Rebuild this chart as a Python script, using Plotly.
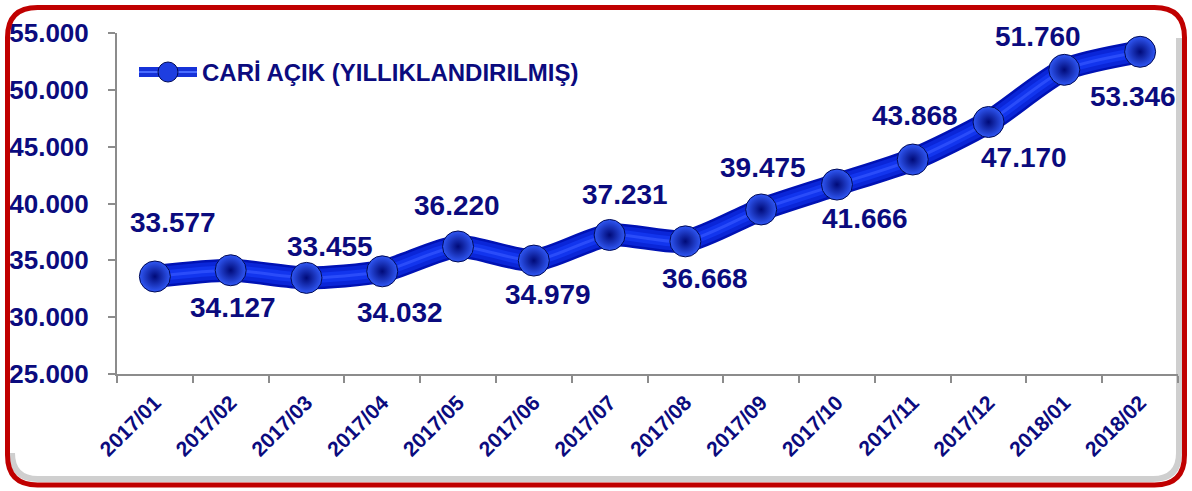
import plotly.graph_objects as go

# ---- data ----
categories = ["2017/01", "2017/02", "2017/03", "2017/04", "2017/05", "2017/06", "2017/07",
              "2017/08", "2017/09", "2017/10", "2017/11", "2017/12", "2018/01", "2018/02"]
values = [33577, 34127, 33455, 34032, 36220, 34979, 37231, 36668, 39475, 41666,
          43868, 47170, 51760, 53346]
series_name = "CARİ AÇIK (YILLIKLANDIRILMIŞ)"
y_ticks = [25000, 30000, 35000, 40000, 45000, 50000, 55000]
# label offsets in pixels (dx right, dy down) relative to each point
label_dx = [18, 2, 24, 18, -1, 14, 15, 20, 2, 28, 2, 35, -26, -7]
label_dy = [-54, 37, -31, 41, -41, 34, -40, 37, -42, 34, -44, 35, -33, 45]

W, H = 1192, 491
ML, MR, MT, MB = 117, 14, 33, 117
PW, PH = W - ML - MR, H - MT - MB

NAVY = "#0B0B7E"
FONT = "Liberation Sans"


def px(x):
    return (x - ML) / PW


def py(y):
    return (H - MB - y) / PH


def fmt(v):
    return f"{v:,}".replace(",", ".")


fig = go.Figure()

# thick shaded line (layered)
for width, color in [(23, "#0012B4"), (18, "#0A26D8"), (10, "#1235EE"), (3, "#2A4CFA")]:
    fig.add_trace(go.Scatter(
        x=categories, y=values, mode="lines",
        line=dict(color=color, width=width, shape="spline", smoothing=0.7),
        hoverinfo="skip", showlegend=False))

# spherical markers
fig.add_trace(go.Scatter(
    x=categories, y=values, mode="markers", name=series_name,
    marker=dict(size=31, color="#3058F5", symbol="circle",
                gradient=dict(type="radial", color="#000A78"),
                line=dict(color="#000A55", width=1)),
    showlegend=False))

# data labels
annotations = []
for c, v, dx, dy in zip(categories, values, label_dx, label_dy):
    annotations.append(dict(
        x=c, y=v, xref="x", yref="y", text=f"<b>{fmt(v)}</b>", showarrow=False,
        xshift=dx, yshift=-dy,
        font=dict(family=FONT, size=28, color=NAVY)))

# manual legend text
annotations.append(dict(
    x=px(200), y=py(72), xref="paper", yref="paper", xanchor="left", yanchor="middle",
    text=f"<b>{series_name}</b>", showarrow=False,
    font=dict(family=FONT, size=24, color=NAVY)))


def rounded_rect(x0, y0, x1, y1, r):
    # pixel coords -> paper path
    pts = [
        f"M {px(x0 + r)},{py(y0)}",
        f"L {px(x1 - r)},{py(y0)}",
        f"Q {px(x1)},{py(y0)} {px(x1)},{py(y0 + r)}",
        f"L {px(x1)},{py(y1 - r)}",
        f"Q {px(x1)},{py(y1)} {px(x1 - r)},{py(y1)}",
        f"L {px(x0 + r)},{py(y1)}",
        f"Q {px(x0)},{py(y1)} {px(x0)},{py(y1 - r)}",
        f"L {px(x0)},{py(y0 + r)}",
        f"Q {px(x0)},{py(y0)} {px(x0 + r)},{py(y0)}",
        "Z",
    ]
    return " ".join(pts)


def shadow_path(x0, y0, x1, y1, r):
    # bottom + right inner shadow (open path)
    pts = [
        f"M {px(x1)},{py(y0 + r)}",
        f"L {px(x1)},{py(y1 - r)}",
        f"Q {px(x1)},{py(y1)} {px(x1 - r)},{py(y1)}",
        f"L {px(x0 + r)},{py(y1)}",
        f"Q {px(x0)},{py(y1)} {px(x0)},{py(y1 - r)}",
    ]
    return " ".join(pts)


shapes = [
    # inner grey shadow (bottom / right)
    dict(type="path", xref="paper", yref="paper", layer="below",
         path=shadow_path(12, 12, 1179, 479, 26),
         line=dict(color="#CFCFCF", width=6)),
    # red rounded border
    dict(type="path", xref="paper", yref="paper", layer="above",
         path=rounded_rect(7.5, 7.5, 1184.5, 485, 30),
         line=dict(color="#C00000", width=5)),
    # legend symbol: line + sphere
    dict(type="line", xref="paper", yref="paper", layer="above",
         x0=px(139), x1=px(197), y0=py(72), y1=py(72),
         line=dict(color="#1632D8", width=10)),
    dict(type="line", xref="paper", yref="paper", layer="above",
         x0=px(139), x1=px(197), y0=py(72), y1=py(72),
         line=dict(color="#4A6CFF", width=2)),
    dict(type="circle", xref="paper", yref="paper", layer="above",
         x0=px(158), x1=px(178), y0=py(62), y1=py(82),
         fillcolor="#1E3EE0", line=dict(color="#000A55", width=1)),
]

fig.update_layout(
    width=W, height=H,
    margin=dict(l=ML, r=MR, t=MT, b=MB, autoexpand=False),
    paper_bgcolor="white", plot_bgcolor="white",
    showlegend=False,
    annotations=annotations,
    shapes=shapes,
    font=dict(family=FONT, color=NAVY),
)

fig.update_xaxes(
    type="category", range=[-0.5, len(categories) - 0.5],
    tickvals=categories, ticktext=[f"<b>{c}</b>" for c in categories],
    tickson="boundaries", ticks="outside", ticklen=7,
    tickcolor="#8C8C8C", tickwidth=2,
    showline=True, linecolor="#8C8C8C", linewidth=2,
    showgrid=False, zeroline=False, tickangle=-45,
    ticklabelstandoff=6,
    tickfont=dict(family=FONT, size=21, color=NAVY),
    automargin=False,
)

fig.update_yaxes(
    range=[25000, 55000], tickvals=y_ticks,
    ticktext=[f"<b>{fmt(t)}</b>" for t in y_ticks],
    ticks="outside", ticklen=7, tickcolor="#8C8C8C", tickwidth=2,
    showline=True, linecolor="#8C8C8C", linewidth=2,
    showgrid=False, zeroline=False,
    ticklabelstandoff=14,
    tickfont=dict(family=FONT, size=26, color=NAVY),
    automargin=False,
)

fig.write_html("out.html", config={"displayModeBar": False},
               post_script="document.body.style.margin='0';")
